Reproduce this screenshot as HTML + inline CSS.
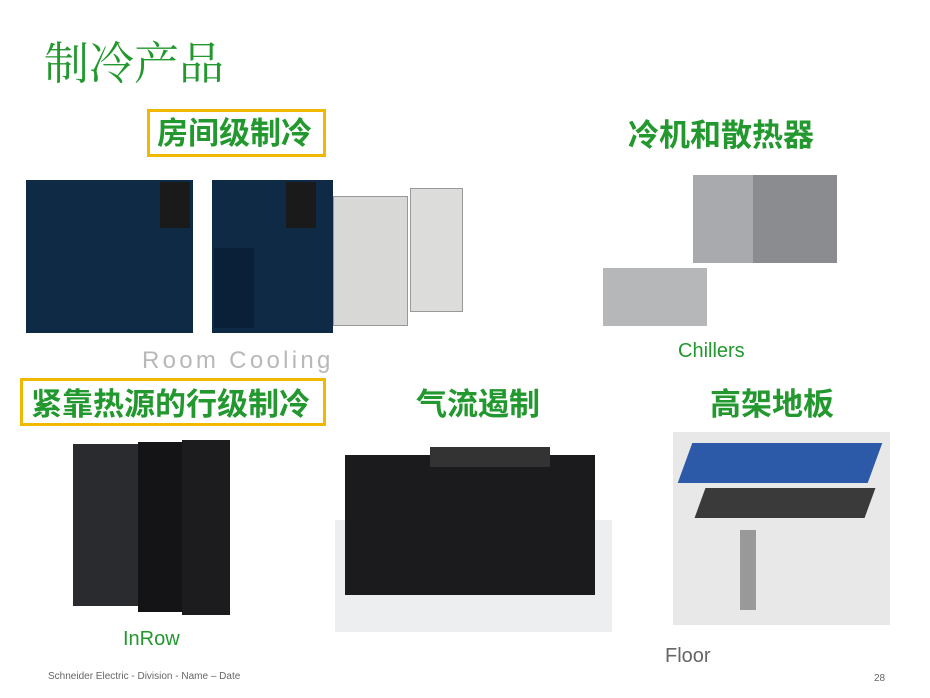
<!DOCTYPE html>
<html><head><meta charset="utf-8"><style>
*{margin:0;padding:0;box-sizing:border-box}
body{width:930px;height:698px;background:#fff;position:relative;overflow:hidden;font-family:"Liberation Sans","Noto Sans CJK SC",sans-serif}
.a{position:absolute}
.g{color:#22982e;font-weight:bold;font-size:31px;line-height:1;font-family:"Liberation Sans","Noto Sans CJK SC",sans-serif;white-space:nowrap}
.box{border:3px solid #f0b800}
.nv{background:#0f2a44}
</style></head><body>
<div class="a" style="left:44px;top:42px;font-size:45px;color:#22982e;font-family:'Liberation Serif','Noto Serif CJK SC',serif;line-height:1">制冷产品</div>

<div class="a box" style="left:147px;top:109px;width:179px;height:48px"></div>
<div class="a g" style="left:157px;top:118px">房间级制冷</div>
<div class="a g" style="left:628px;top:120px">冷机和散热器</div>

<!-- room cooling units -->
<div class="a nv" style="left:26px;top:180px;width:167px;height:153px"></div>
<div class="a" style="left:160px;top:182px;width:30px;height:46px;background:#1a1a1a"></div>
<div class="a nv" style="left:212px;top:180px;width:121px;height:153px"></div>
<div class="a" style="left:286px;top:182px;width:30px;height:46px;background:#1a1a1a"></div>
<div class="a" style="left:214px;top:248px;width:40px;height:80px;background:#0a2038"></div>
<div class="a" style="left:333px;top:196px;width:75px;height:130px;background:#d8d8d6;border:1px solid #999"></div>
<div class="a" style="left:410px;top:188px;width:53px;height:124px;background:#dcdcda;border:1px solid #999"></div>
<div class="a" style="left:142px;top:347px;font-size:24px;color:#b8b8b8;letter-spacing:3.3px;font-weight:300">Room Cooling</div>

<!-- chillers -->
<div class="a" style="left:693px;top:175px;width:144px;height:88px;background:#8a8c90"></div>
<div class="a" style="left:693px;top:175px;width:60px;height:88px;background:#a8aaae"></div>
<div class="a" style="left:603px;top:268px;width:104px;height:58px;background:#b6b7b9"></div>
<div class="a" style="left:678px;top:340px;font-size:20px;color:#22982e">Chillers</div>

<div class="a box" style="left:20px;top:378px;width:306px;height:48px"></div>
<div class="a g" style="left:31px;top:389px">紧靠热源的行级制冷</div>
<div class="a g" style="left:416px;top:389px">气流遏制</div>
<div class="a g" style="left:710px;top:389px">高架地板</div>

<!-- inrow -->
<div class="a" style="left:73px;top:444px;width:65px;height:162px;background:#2a2b2e"></div>
<div class="a" style="left:138px;top:442px;width:44px;height:170px;background:#141416"></div>
<div class="a" style="left:182px;top:440px;width:48px;height:175px;background:#1c1c1e"></div>
<div class="a" style="left:123px;top:628px;font-size:20px;color:#22982e">InRow</div>

<!-- containment -->
<div class="a" style="left:335px;top:520px;width:277px;height:112px;background:#eceef0"></div>
<div class="a" style="left:345px;top:455px;width:250px;height:140px;background:#1b1b1d"></div>
<div class="a" style="left:430px;top:447px;width:120px;height:20px;background:#333"></div>

<!-- raised floor -->
<div class="a" style="left:673px;top:432px;width:217px;height:193px;background:#e8e8e8"></div>
<div class="a" style="left:685px;top:443px;width:190px;height:40px;background:#2c5aa8;transform:skewX(-20deg)"></div>
<div class="a" style="left:700px;top:488px;width:170px;height:30px;background:#3a3a3a;transform:skewX(-20deg)"></div>
<div class="a" style="left:740px;top:530px;width:16px;height:80px;background:#999"></div>
<div class="a" style="left:665px;top:645px;font-size:20px;color:#666">Floor</div>

<div class="a" style="left:48px;top:671px;font-size:10px;color:#666">Schneider Electric - Division - Name – Date</div>
<div class="a" style="left:874px;top:673px;font-size:10px;color:#666">28</div>
</body></html>
